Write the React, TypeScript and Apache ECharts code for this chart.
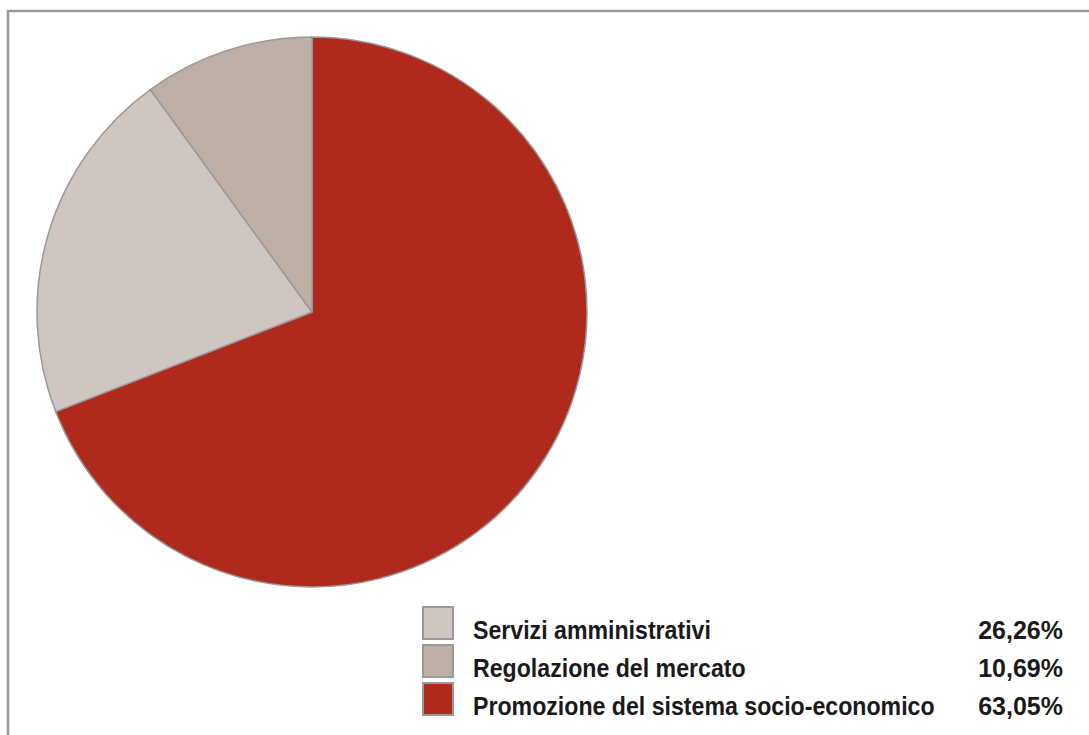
import React, { useEffect, useRef } from "react";
import * as echarts from "echarts";

// Legend (as printed in the reference)
const legendNames = [
  "Servizi amministrativi",
  "Regolazione del mercato",
  "Promozione del sistema socio-economico",
];
const legendPercents = ["26,26%", "10,69%", "63,05%"];

// Slice shares as drawn in the picture (clockwise from 12 o'clock)
const sliceNames = [
  "Promozione del sistema socio-economico",
  "Servizi amministrativi",
  "Regolazione del mercato",
];
const sliceValues = [69.1, 20.9, 10.0];
const sliceColors = ["#B0291D", "#D0C6C1", "#BDAEA6"];

export default function App() {
  const ref = useRef<HTMLDivElement>(null);

  useEffect(() => {
    if (!ref.current) return;
    const chart = echarts.init(ref.current, undefined, { renderer: "svg" });

    const colorByName: Record<string, string> = {};
    sliceNames.forEach((n, i) => (colorByName[n] = sliceColors[i]));

    const legendX = 423;
    const legendY = 607;
    const rowStep = 38;
    const legendItems: any[] = [];
    legendNames.forEach((name, i) => {
      const y = legendY + i * rowStep;
      legendItems.push({
        type: "rect",
        shape: { x: legendX, y, width: 30, height: 32 },
        style: { fill: colorByName[name], stroke: "#999999", lineWidth: 2 },
        silent: true,
      });
      legendItems.push({
        type: "text",
        x: 473,
        y: y + 23,
        scaleX: 0.89,
        style: {
          text: name,
          fontFamily: "'Liberation Sans', Arial, sans-serif",
          fontWeight: "bold",
          fontSize: 26,
          fill: "#1a1a1a",
          textAlign: "left",
          textVerticalAlign: "middle",
        },
        silent: true,
      });
      legendItems.push({
        type: "text",
        x: 1063,
        y: y + 23,
        style: {
          text: legendPercents[i],
          fontFamily: "'Liberation Sans', Arial, sans-serif",
          fontWeight: "bold",
          fontSize: 25,
          fill: "#1a1a1a",
          textAlign: "right",
          textVerticalAlign: "middle",
        },
        silent: true,
      });
    });

    chart.setOption({
      animation: false,
      backgroundColor: "#ffffff",
      graphic: [
        {
          type: "rect",
          shape: { x: 8, y: 11, width: 1300, height: 900 },
          style: { fill: "none", stroke: "#999999", lineWidth: 2.5 },
          silent: true,
        },
        ...legendItems,
      ],
      series: [
        {
          type: "pie",
          center: [312, 312],
          radius: 275,
          startAngle: 90,
          clockwise: true,
          silent: true,
          label: { show: false },
          labelLine: { show: false },
          emphasis: { disabled: true },
          itemStyle: { borderColor: "#999999", borderWidth: 1.5 },
          data: sliceNames.map((n, i) => ({
            name: n,
            value: sliceValues[i],
            itemStyle: { color: sliceColors[i] },
          })),
        },
      ],
    });
    return () => chart.dispose();
  }, []);

  return (
    <div
      ref={ref}
      style={{ position: "fixed", left: 0, top: 0, width: 1089, height: 735 }}
    />
  );
}
